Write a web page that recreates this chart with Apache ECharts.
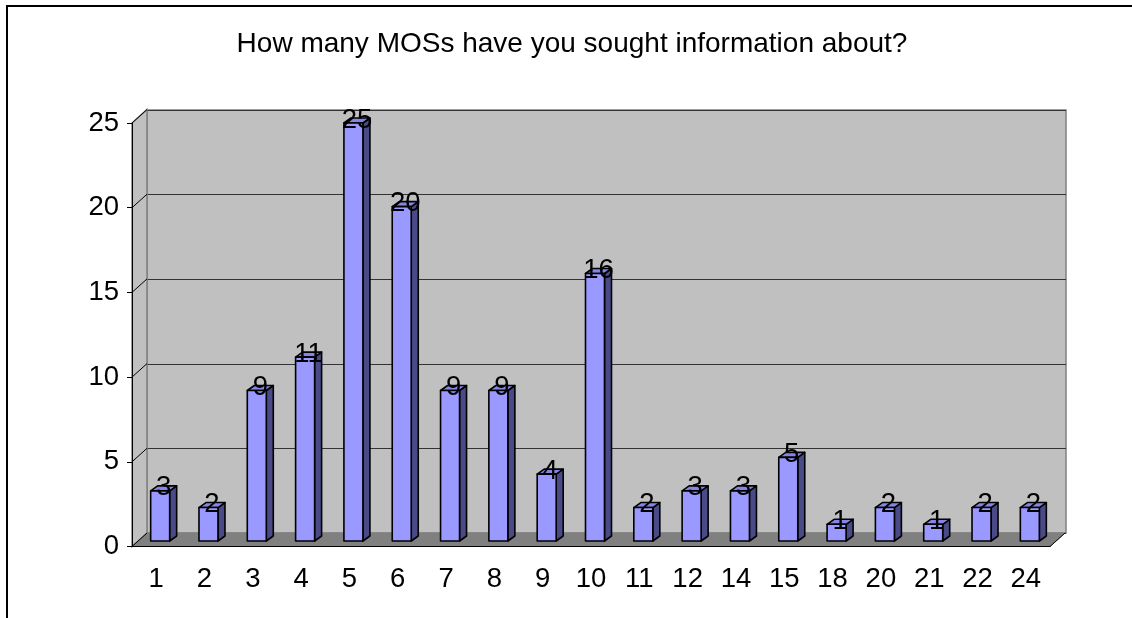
<!DOCTYPE html>
<html><head><meta charset="utf-8">
<script src="https://cdn.jsdelivr.net/npm/echarts@6/dist/echarts.min.js"></script>
<style>html,body{margin:0;padding:0;background:#fff}#c{width:1132px;height:618px}</style>
</head><body><div id="c"></div>
<script>
const titleText = 'How many MOSs have you sought information about?';
const categories = ['1','2','3','4','5','6','7','8','9','10','11','12','14','15','18','20','21','22','24'];
const counts = [3,2,9,11,25,20,9,9,4,16,2,3,3,5,1,2,1,2,2];
const yTicks = [0,5,10,15,20,25];

const FONT = "'Liberation Sans', Arial, sans-serif";
const DX = 15, DY = -13.5;   // wall depth offset
const BDX = 7, BDY = -5;     // bar depth offset
const BAR_W = 19;
const Y_MAX = yTicks[yTicks.length - 1];

const chart = echarts.init(document.getElementById('c'), null, {renderer: 'canvas'});
const option = {
  animation: false,
  backgroundColor: '#fff',
  grid: [
    {left: 132, right: 82, top: 123, bottom: 71.5},
    {left: 136, right: 78, top: 123, bottom: 77},
    {left: 147, right: 66, top: 110, bottom: 85, show: true, backgroundColor: '#c0c0c0', borderColor: '#808080', borderWidth: 1.5}
  ],
  xAxis: [
    {gridIndex: 0, type: 'category', data: categories, z: 3,
     axisLine: {lineStyle: {color: '#000', width: 1}},
     axisTick: {length: 6, lineStyle: {color: '#000'}},
     axisLabel: {fontSize: 27.5, color: '#000', fontFamily: FONT, margin: 19}},
    {gridIndex: 1, type: 'category', data: categories, show: false},
    {gridIndex: 2, type: 'category', data: categories, show: false}
  ],
  yAxis: [
    {gridIndex: 0, type: 'value', min: 0, max: Y_MAX, interval: 5, z: 3,
     axisLine: {show: true, lineStyle: {color: '#000', width: 1}},
     axisTick: {show: true, length: 5, lineStyle: {color: '#000'}},
     axisLabel: {fontSize: 27.5, color: '#000', fontFamily: FONT, margin: 13},
     splitLine: {show: false}},
    {gridIndex: 1, type: 'value', min: 0, max: Y_MAX, interval: 5, show: false},
    {gridIndex: 2, type: 'value', min: 0, max: Y_MAX, interval: 5,
     axisLine: {show: false}, axisTick: {show: false}, axisLabel: {show: false},
     splitLine: {show: true, lineStyle: {color: '#333', width: 1.2}}}
  ],
  graphic: [
    {type: 'rect', silent: true, shape: {x: 7, y: 6, width: 1140, height: 640},
     style: {fill: 'none', stroke: '#000', lineWidth: 2}},
    {type: 'text', silent: true,
     style: {text: titleText, x: 572, y: 44, align: 'center', verticalAlign: 'middle',
             fontSize: 28, fontFamily: FONT, fill: '#000'}}
  ],
  series: [
    {
      type: 'custom', xAxisIndex: 0, yAxisIndex: 0, z: 1, silent: true, clip: false,
      data: [[0, 0]],
      renderItem: function (params, api) {
        const bw = api.size([1, 0])[0];
        const p0 = api.coord([0, 0]);
        const pN = api.coord([categories.length - 1, 0]);
        const L = p0[0] - bw / 2, R = pN[0] + bw / 2, y0 = p0[1];
        const yTop = api.coord([0, Y_MAX])[1];
        const children = [
          {type: 'polygon', shape: {points: [[L, y0], [L, yTop], [L + DX, yTop + DY], [L + DX, y0 + DY]]},
           style: {fill: '#c0c0c0', stroke: '#808080', lineWidth: 1.5}},
          {type: 'polygon', shape: {points: [[L, y0], [R, y0], [R + DX, y0 + DY], [L + DX, y0 + DY]]},
           style: {fill: '#808080', stroke: '#808080', lineWidth: 1}}
        ];
        yTicks.forEach(function (v) {
          const y = api.coord([0, v])[1];
          children.push({type: 'line', shape: {x1: L, y1: y, x2: L + DX, y2: y + DY},
                         style: {stroke: '#000', lineWidth: 1}});
        });
        children.push({type: 'line', shape: {x1: R, y1: y0, x2: R + DX, y2: y0 + DY},
                       style: {stroke: '#000', lineWidth: 1}});
        return {type: 'group', children: children};
      }
    },
    {
      type: 'custom', xAxisIndex: 1, yAxisIndex: 1, z: 5, clip: false,
      data: counts.map(function (v, i) { return [i, v]; }),
      renderItem: function (params, api) {
        const i = api.value(0), v = api.value(1);
        const top = api.coord([i, v]), base = api.coord([i, 0]);
        const x0 = top[0] - BAR_W / 2, x1 = x0 + BAR_W, yt = top[1], yb = base[1];
        const st = {stroke: '#000', lineWidth: 1.6, lineJoin: 'round'};
        return {type: 'group', children: [
          {type: 'polygon', shape: {points: [[x1, yb], [x1, yt], [x1 + BDX, yt + BDY], [x1 + BDX, yb + BDY]]},
           style: Object.assign({fill: '#4a4a88'}, st)},
          {type: 'polygon', shape: {points: [[x0, yt], [x1, yt], [x1 + BDX, yt + BDY], [x0 + BDX, yt + BDY]]},
           style: Object.assign({fill: '#8585e6'}, st)},
          {type: 'rect', shape: {x: x0, y: yt, width: BAR_W, height: yb - yt},
           style: Object.assign({fill: '#9999ff'}, st)},
          {type: 'text', style: {text: String(v), x: x0 + BAR_W / 2 + BDX / 2, y: yt - 3,
                                 align: 'center', verticalAlign: 'middle',
                                 fontSize: 27.5, fontFamily: FONT, fill: '#000'}}
        ]};
      }
    }
  ]
};
chart.setOption(option);
</script>
</body></html>
